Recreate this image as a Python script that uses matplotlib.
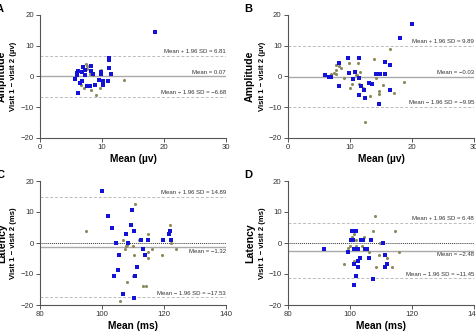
import matplotlib
matplotlib.use("Agg")
import matplotlib.pyplot as plt

plt.rcParams['font.family'] = ['Liberation Sans', 'DejaVu Sans']

BLUE = '#1212d8'
OLIVE = '#8c8a5c'

# ---- panel A : amplitude, visit 1 - visit 2 (uv)
a_blue_x = [18.6, 11.2, 11.2, 11.2, 11.4, 10.9, 10.2, 9.9, 9.9, 10.1, 9.5, 8.9, 8.0, 7.6,
            8.2, 8.2, 7.0, 7.3, 7.2, 6.7, 6.7, 6.5, 6.2, 6.0, 6.0, 5.7, 6.1, 8.6]
a_blue_y = [14.5, 6.0, 5.4, 2.7, 0.7, -1.5, -1.5, 1.5, 0.9, -2.9, -1.0, -2.9, -3.2, -3.2,
            3.4, 1.8, 3.1, 2.0, 0.4, 1.5, -1.5, -2.1, 1.8, 1.3, 0.4, -0.9, -5.5, 0.7]
a_olive_x = [13.5, 9.8, 9.6, 9.0, 8.3, 7.4, 7.5, 8.0, 7.1, 6.6, 8.5, 7.6, 9.8]
a_olive_y = [-1.2, 2.0, -3.6, -6.1, -4.3, 4.1, 2.5, 0.8, -3.6, -2.9, 0.4, 3.4, 1.8]
a_stats = [6.81, 0.07, -6.68]

# ---- panel B : amplitude
b_blue_x = [20.0, 18.0, 9.7, 11.5, 8.2, 8.2, 15.7, 16.5, 6.0, 6.6, 7.0, 9.8, 10.8, 10.5,
            11.5, 11.8, 11.5, 12.3, 12.4, 13.0, 13.6, 14.2, 14.8, 15.6, 14.6, 16.4]
b_blue_y = [17.1, 12.4, 6.1, 6.1, 4.4, -3.1, 4.8, 3.8, 0.4, -0.2, -0.2, 1.1, 1.5, -0.9,
            -0.6, -3.0, -5.9, -4.5, -6.9, -2.0, -2.5, 0.8, 0.8, 0.8, -8.8, -4.3]
b_olive_x = [16.4, 13.9, 11.3, 7.7, 8.2, 7.8, 8.5, 7.4, 7.7, 6.9, 9.1, 10.0, 10.3, 11.0,
             11.6, 11.1, 11.5, 12.1, 13.3, 12.5, 14.2, 14.7, 14.7, 15.4, 17.1, 18.7, 9.8]
b_olive_y = [9.0, 5.8, 4.5, 3.6, 3.4, 2.0, 2.8, 1.1, 0.9, 0.7, -0.6, -3.6, -2.3, 0.4,
             1.5, 0.5, -2.3, -3.8, -6.2, -14.7, -0.4, -4.7, -5.8, -2.8, -5.3, -1.8, 4.4]
b_stats = [9.89, -0.03, -9.95]

# ---- panel C : latency (ms)
c_blue_x = [100.0, 102.0, 103.1, 104.6, 105.4, 105.0, 103.9, 106.9, 110.4, 107.8, 108.4, 109.3,
            109.7, 110.4, 110.8, 111.2, 112.7, 113.2, 114.0, 114.7, 119.6, 121.6, 122.0, 122.4]
c_blue_y = [16.7, 8.7, 4.8, 0.0, -3.9, -8.8, -10.8, -16.6, -17.6, 3.0, 0.0, 5.8,
            10.8, 3.9, -10.8, -7.8, 1.0, -1.9, -3.9, 1.0, 1.0, 3.0, 3.9, 1.0]
c_olive_x = [94.7, 110.8, 106.9, 107.6, 108.0, 107.4, 110.0, 110.4, 111.9, 108.0, 110.0,
             113.2, 114.3, 114.7, 114.7, 114.7, 116.2, 119.2, 122.0, 122.2, 124.0, 105.9]
c_olive_y = [3.9, 12.7, 1.0, -1.1, -0.5, -2.0, -1.0, -4.0, 1.0, -12.7, -10.6,
             -13.8, -13.8, 2.9, -3.0, -4.9, -2.0, -4.0, 5.9, 0.0, -2.0, -18.6]
c_stats = [14.89, -1.32, -17.53]

# ---- panel D : latency (ms)
d_blue_x = [91.7, 99.3, 100.2, 100.6, 101.4, 101.9, 101.0, 101.2, 101.2, 101.9, 101.4, 102.7,
            102.5, 102.5, 103.4, 104.2, 103.2, 104.9, 105.5, 106.2, 106.8, 107.5, 110.5,
            111.3, 111.3, 111.8]
d_blue_y = [-1.9, -2.8, 1.1, 4.0, 4.0, 4.0, 1.1, -1.9, -6.8, -10.5, -13.5, -1.9,
            -5.9, -7.8, 1.1, 1.1, -4.9, -1.9, -1.9, -4.9, 1.1, -11.6, 0.0,
            -3.9, -7.8, -6.9]
d_olive_x = [98.2, 108.1, 107.5, 114.4, 115.9, 109.8, 109.4, 108.3, 106.8, 104.5, 106.2,
             100.1, 100.8, 101.2, 101.9, 101.4, 104.0, 111.8, 113.4, 101.9, 99.5]
d_olive_y = [-6.9, 8.8, 4.0, 4.0, -2.8, 0.0, -3.9, -7.8, 1.1, 2.0, -2.8,
             -0.9, 2.0, 2.9, 1.1, -5.8, -0.9, -4.9, -7.8, -0.9, -1.7]
d_stats = [6.48, -2.48, -11.45]

panels = [
    ('A', 'Amplitude', 'Visit 1 \u2212 visit 2 (\u00b5v)', 'Mean (\u00b5v)', (0, 30), [0, 10, 20, 30],
     a_blue_x, a_blue_y, a_olive_x, a_olive_y, a_stats, False),
    ('B', 'Amplitude', 'Visit 1 \u2212 visit 2 (\u00b5v)', 'Mean (\u00b5v)', (0, 30), [0, 10, 20, 30],
     b_blue_x, b_blue_y, b_olive_x, b_olive_y, b_stats, False),
    ('C', 'Latency', 'Visit 1 \u2212 visit 2 (ms)', 'Mean (ms)', (80, 140), [80, 100, 120, 140],
     c_blue_x, c_blue_y, c_olive_x, c_olive_y, c_stats, True),
    ('D', 'Latency', 'Visit 1 \u2212 visit 2 (ms)', 'Mean (ms)', (80, 140), [80, 100, 120, 140],
     d_blue_x, d_blue_y, d_olive_x, d_olive_y, d_stats, True),
]

W, H = 477, 332
fig = plt.figure(figsize=(W / 100, H / 100), dpi=100)

# axes boxes in pixels: left, top, right, bottom
boxes = [(40, 15, 226, 138), (288, 15, 474, 138), (40, 181, 226, 305), (288, 181, 474, 305)]


def fmt(v):
    s = '%.2f' % v
    return s.replace('-', '\u2212')


for (letter, ylab1, ylab2, xlab, xlim, xticks, bx, by, ox, oy, st, below), box in zip(panels, boxes):
    l, t, r, b = box
    ax = fig.add_axes([l / W, (H - b) / H, (r - l) / W, (b - t) / H])
    ax.set_xlim(*xlim)
    ax.set_ylim(-20, 20)
    ax.set_xticks(xticks)
    ax.set_yticks([-20, -10, 0, 10, 20])
    ax.set_yticklabels(['\u221220', '\u221210', '0', '10', '20'])
    for s in ['top', 'right']:
        ax.spines[s].set_visible(False)
    for s in ['left', 'bottom']:
        ax.spines[s].set_color('#555555')
        ax.spines[s].set_linewidth(0.8)
    ax.tick_params(direction='out', length=3, width=0.7, color='#555555',
                   labelsize=5.6, labelcolor='#333333', pad=1.5)

    if below:
        ax.axhline(0, color='#333333', lw=0.7, ls=(0, (1, 1)), zorder=1)
    ax.axhline(st[0], color='#bbbbbb', lw=0.7, ls=(0, (3, 2)), zorder=1)
    ax.axhline(st[2], color='#bbbbbb', lw=0.7, ls=(0, (3, 2)), zorder=1)
    ax.axhline(st[1], color='#aaaaaa', lw=1.0, zorder=1)

    ax.scatter(ox, oy, marker='o', s=5, color=OLIVE, linewidths=0, zorder=3)
    ax.scatter(bx, by, marker='s', s=9, color=BLUE, linewidths=0, zorder=4)

    tk = dict(fontsize=4.3, color='#333333', ha='right', transform=ax.get_yaxis_transform())
    ax.annotate('Mean + 1.96 SD = ' + fmt(st[0]), (1, st[0]), xytext=(0, 1.2),
                textcoords='offset points', va='bottom', xycoords=ax.get_yaxis_transform(),
                fontsize=4.3, color='#333333', ha='right')
    if below:
        ax.annotate('Mean = ' + fmt(st[1]), (1, st[1]), xytext=(0, -1.2),
                    textcoords='offset points', va='top', xycoords=ax.get_yaxis_transform(),
                    fontsize=4.3, color='#333333', ha='right')
    else:
        ax.annotate('Mean = ' + fmt(st[1]), (1, st[1]), xytext=(0, 1.2),
                    textcoords='offset points', va='bottom', xycoords=ax.get_yaxis_transform(),
                    fontsize=4.3, color='#333333', ha='right')
    ax.annotate('Mean \u2212 1.96 SD = ' + fmt(st[2]), (1, st[2]), xytext=(0, 1.2),
                textcoords='offset points', va='bottom', xycoords=ax.get_yaxis_transform(),
                fontsize=4.3, color='#333333', ha='right')

    ax.set_xlabel(xlab, fontsize=7.3, fontweight='bold', labelpad=2)

    yc = (H - (t + b) / 2) / H
    fig.text((l - 38) / W, yc, ylab1, rotation=90, ha='center', va='center',
             fontsize=7.6, fontweight='bold')
    fig.text((l - 26) / W, yc, ylab2, rotation=90, ha='center', va='center',
             fontsize=5.6, fontweight='bold')
    fig.text((l - 44) / W, (H - t + 11) / H, letter, ha='left', va='top',
             fontsize=8, fontweight='bold')

fig.savefig('out.png', dpi=100)
